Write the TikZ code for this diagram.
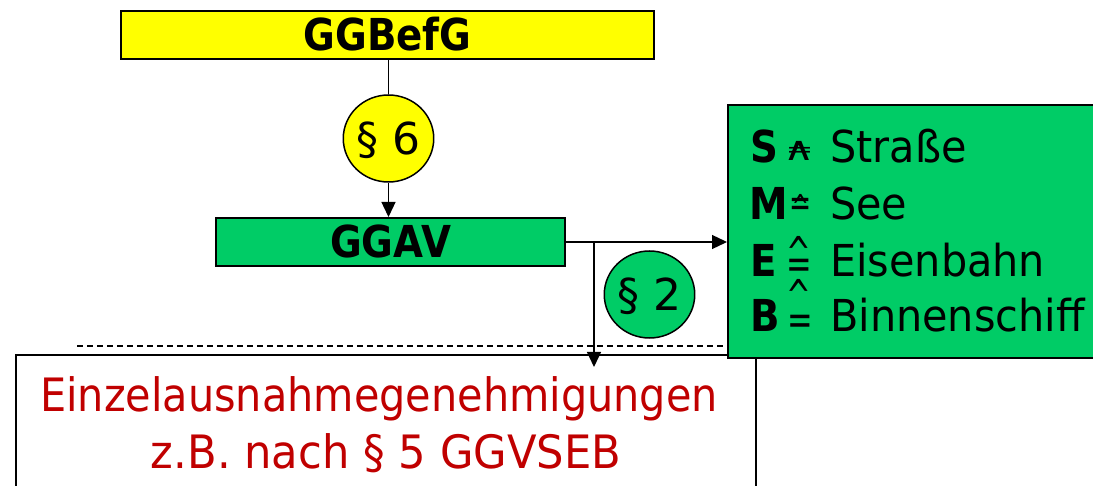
\documentclass[tikz,border=0pt]{standalone}
\usepackage{fontspec}
\setmainfont{DejaVu Sans}[FakeStretch=0.88]
\newfontfamily\ggwide{DejaVu Sans}
\newfontfamily\ggword{DejaVu Sans}[FakeStretch=0.94]
\newfontfamily\ggline{DejaVu Sans}[FakeStretch=0.90]
\usetikzlibrary{shapes.geometric,arrows.meta}
\definecolor{ggyellow}{HTML}{FFFF00}
\definecolor{gggreen}{HTML}{00CC66}
\definecolor{ggred}{HTML}{C00000}
% #1 xscale, #2 size, #3 glyph, #4 raise
\newcommand\ggsym[4]{\makebox[0pt]{\raisebox{#4}{\scalebox{#1}[1]{\ggwide\fontsize{#2}{#2}\selectfont #3}}}}
\begin{document}
\begin{tikzpicture}[x=1pt,y=-1pt,
  lawbox/.style={draw, line width=2pt, inner sep=0pt, font=\fontsize{44}{44}\selectfont\bfseries, text height=32pt, text depth=0pt},
  para/.style={ellipse, draw, line width=1.5pt, inner sep=0pt, minimum width=81pt, minimum height=87pt, font=\ggwide\fontsize{44}{44}\selectfont, text height=32pt, text depth=0pt},
  conn/.style={line width=1.3pt},
  arr/.style={conn, -{Triangle[length=15pt,width=14pt]}},
  modeletter/.style={anchor=base west, inner sep=0pt, font=\fontsize{44}{44}\selectfont\bfseries},
  modeword/.style={anchor=base west, inner sep=0pt, font=\ggword\fontsize{44}{44}\selectfont},
  modesym/.style={anchor=base, inner sep=0pt},
  extext/.style={anchor=base, inner sep=0pt, text=ggred}
]
\useasboundingbox (0,0) rectangle (1093,486);
% bottom box and dashed line
\node[draw, line width=2pt, inner sep=0pt, minimum width=740pt, minimum height=180pt, anchor=north west] (exbox) at (15,354) {};
\coordinate (dl) at (77,346);
\coordinate (dr) at (727,346);
\draw[line width=1.5pt, dash pattern=on 6pt off 4pt] (dl) -- (dr);
% boxes
\node[lawbox, fill=ggyellow, minimum width=533pt, minimum height=48pt] (befg) at (387.5,35) {GGBefG};
\node[para, fill=ggyellow] (p6) at (388.5,138.5) {§ 6};
\node[lawbox, fill=gggreen, minimum width=349pt, minimum height=48pt] (ggav) at (390.5,242) {GGAV};
\node[draw, line width=2pt, fill=gggreen, inner sep=0pt, minimum width=390pt, minimum height=253pt, anchor=north west] (modes) at (727,104) {};
\node[para, fill=gggreen] (p2) at (649.5,294.5) {§ 2};
% connectors
\draw[conn] (p6.north) -- (p6.north |- befg.south);
\draw[arr] (p6.south) -- (p6.south |- ggav.north);
\draw[arr] (ggav.east) -- (ggav.east -| modes.west);
\coordinate (br) at (594,242);
\coordinate (brend) at (594,367);
\draw[arr] (br) -- (brend);
% mode list
\node[modeletter] (lS) at (750,163) {S};
\node[modesym] (symS) at (799.5,161) {\ggsym{1.3}{33}{∧}{0pt}\ggsym{1.67}{20}{=}{4.75pt}};
\node[modeword] (wS) at (830,163) {Straße};
\node[modeletter] (lM) at (749,220) {M};
\node[modesym] (symM) at (801,216.5) {\ggsym{0.66}{40}{=}{0pt}\ggsym{0.6}{33}{\^{}}{-1.7pt}};
\node[modeword] (wM) at (830,220) {See};
\node[modeletter] (lE) at (750,277) {E};
\node[modesym] (symE) at (799,278.3) {\ggsym{0.67}{44}{\^{}}{10.1pt}\ggsym{0.72}{42.5}{=}{0pt}\ggsym{0.67}{44}{\^{}}{-33.7pt}};
\node[modeword] (wE) at (830,277) {Eisenbahn};
\node[modeletter] (lB) at (750,332) {B};
\node[modesym] (symB) at (800,335) {\ggsym{0.72}{42.5}{=}{0pt}};
\node[modeword] (wB) at (830,332) {Binnenschiff};
% exception text
\node[extext, font=\ggline\fontsize{46}{46}\selectfont] (ex1) at (379,412) {Einzelausnahmegenehmigungen};
\node[extext, font=\ggword\fontsize{46}{46}\selectfont] (ex2) at (386,468) {z.B. nach § 5 GGVSEB};
\end{tikzpicture}
\end{document}
